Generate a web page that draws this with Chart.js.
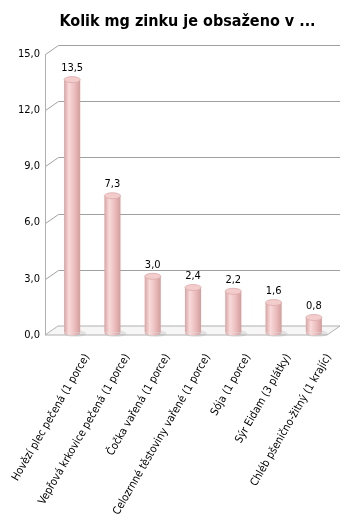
<!DOCTYPE html>
<html>
<head>
<meta charset="utf-8">
<script src="https://cdn.jsdelivr.net/npm/chart.js@4.4.1/dist/chart.umd.min.js"></script>
<style>
  html, body { margin: 0; padding: 0; background: #fff; }
  #wrap { width: 363px; height: 524px; }
</style>
</head>
<body>
<div id="wrap"><canvas id="zinc"></canvas></div>
<script>
// data
const foods = [
    'Hovězí plec pečená (1 porce)',
    'Vepřová krkovice pečená (1 porce)',
    'Čočka vařená (1 porce)',
    'Celozrnné těstoviny vařené (1 porce)',
    'Sója (1 porce)',
    'Sýr Eidam (3 plátky)',
    'Chléb pšenično-žitný (1 krajíc)'
];
const zincMg = [13.5, 7.3, 3.0, 2.4, 2.2, 1.6, 0.8];
const yMin = 0;
const yMax = 15;
const yStep = 3;

const FONT = '"DejaVu Sans Condensed", "DejaVu Sans", sans-serif';
const DEPTH_X = 13, DEPTH_Y = 9;   // 3D wall offset
const BAR_DX = 7, BAR_DY = -2.5;   // bars sit a bit inside the box

const fmt = v => v.toFixed(1).replace('.', ',');

function cylinderGradient(ctx, cx, w) {
    const g = ctx.createLinearGradient(cx - w / 2, 0, cx + w / 2, 0);
    g.addColorStop(0, '#d9a2a2');
    g.addColorStop(0.3, '#f8dada');
    g.addColorStop(0.65, '#ecbdbd');
    g.addColorStop(1, '#d39c9c');
    return g;
}

function barWidth(chart) {
    const a = chart.chartArea;
    return (a.right - a.left) / foods.length * 0.4;
}

// walls, floor, cylinder caps and labels
const cylinderPlugin = {
    id: 'cylinder',
    beforeDatasetsDraw(chart) {
        const ctx = chart.ctx;
        const a = chart.chartArea;
        const y = chart.scales.y;
        ctx.save();
        // floor
        ctx.beginPath();
        ctx.moveTo(a.left, a.bottom);
        ctx.lineTo(a.right, a.bottom);
        ctx.lineTo(a.right + DEPTH_X, a.bottom - DEPTH_Y);
        ctx.lineTo(a.left + DEPTH_X, a.bottom - DEPTH_Y);
        ctx.closePath();
        ctx.fillStyle = '#f6f6f6';
        ctx.fill();
        ctx.strokeStyle = '#b0b0b0';
        ctx.lineWidth = 1;
        ctx.stroke();
        // gridlines on the back wall
        ctx.strokeStyle = '#a0a0a0';
        for (let v = yMin + yStep; v <= yMax; v += yStep) {
            const py = Math.round(y.getPixelForValue(v)) + 0.5;
            ctx.beginPath();
            ctx.moveTo(a.left + 0.5, py);
            ctx.lineTo(a.left + DEPTH_X + 0.5, py - DEPTH_Y);
            ctx.lineTo(a.right + DEPTH_X, py - DEPTH_Y);
            ctx.stroke();
        }
        // left wall edge
        ctx.strokeStyle = '#b0b0b0';
        ctx.beginPath();
        ctx.moveTo(a.left + 0.5, Math.round(y.getPixelForValue(yMax)));
        ctx.lineTo(a.left + 0.5, a.bottom);
        ctx.stroke();
        ctx.restore();

        ctx.save();
        ctx.translate(BAR_DX, BAR_DY);
        // soft shadows on the floor
        const meta = chart.getDatasetMeta(0);
        const w = barWidth(chart);
        meta.data.forEach(el => {
            ctx.beginPath();
            ctx.ellipse(el.x + 3, el.base + 1, w / 2 + 3, 3.5, 0, 0, Math.PI * 2);
            ctx.fillStyle = 'rgba(140,140,140,0.18)';
            ctx.fill();
        });
    },
    afterDatasetsDraw(chart) {
        const ctx = chart.ctx;
        const meta = chart.getDatasetMeta(0);
        const w = barWidth(chart);
        meta.data.forEach((el, i) => {
            const g = cylinderGradient(ctx, el.x, w);
            // rounded bottom
            ctx.beginPath();
            ctx.ellipse(el.x, el.base, w / 2, 3, 0, 0, Math.PI);
            ctx.fillStyle = g;
            ctx.fill();
            // top cap
            ctx.beginPath();
            ctx.ellipse(el.x, el.y, w / 2, 3, 0, 0, Math.PI * 2);
            ctx.fillStyle = '#f3cccc';
            ctx.fill();
            ctx.strokeStyle = '#ddaaaa';
            ctx.lineWidth = 0.8;
            ctx.stroke();
            // value label
            ctx.fillStyle = '#000';
            ctx.font = '11px ' + FONT;
            ctx.textAlign = 'center';
            ctx.textBaseline = 'bottom';
            ctx.fillText(fmt(zincMg[i]), el.x, el.y - 6);
        });
        ctx.restore();
    },
    afterDraw(chart) {
        const ctx = chart.ctx;
        const xs = chart.scales.x;
        const a = chart.chartArea;
        ctx.save();
        ctx.fillStyle = '#000';
        ctx.font = '11px ' + FONT;
        ctx.textAlign = 'right';
        ctx.textBaseline = 'middle';
        foods.forEach((label, i) => {
            ctx.save();
            ctx.translate(xs.getPixelForValue(i) + 22, a.bottom + 20);
            ctx.rotate(-Math.PI / 3);
            ctx.fillText(label, 0, 0);
            ctx.restore();
        });
        ctx.restore();
    }
};

new Chart(document.getElementById('zinc'), {
    type: 'bar',
    data: {
        labels: foods,
        datasets: [{
            data: zincMg,
            backgroundColor(c) {
                const chart = c.chart;
                if (!chart.chartArea || !chart.scales.x) return '#e6b0b0';
                const cx = chart.scales.x.getPixelForValue(c.dataIndex);
                return cylinderGradient(chart.ctx, cx, barWidth(chart));
            },
            borderWidth: 0,
            barPercentage: 0.4,
            categoryPercentage: 1
        }]
    },
    options: {
        responsive: true,
        maintainAspectRatio: false,
        animation: false,
        events: [],
        layout: {
            padding: { left: 12, right: 0, top: 0, bottom: 189 }
        },
        plugins: {
            legend: { display: false },
            tooltip: { enabled: false },
            title: {
                display: true,
                text: 'Kolik mg zinku je obsaženo v ...',
                color: '#000',
                font: { family: FONT, size: 16, weight: 'bold' },
                padding: { top: 12.4, bottom: 22.4 }
            }
        },
        scales: {
            x: {
                display: false
            },
            y: {
                min: yMin,
                max: yMax,
                ticks: {
                    stepSize: yStep,
                    padding: 5,
                    color: '#000',
                    font: { family: FONT, size: 11 },
                    callback: v => fmt(v)
                },
                grid: { display: false, drawTicks: false },
                border: { display: false },
                afterFit(scale) { scale.width = 33; }
            },
            right: {
                position: 'right',
                display: true,
                ticks: { display: false },
                grid: { display: false, drawTicks: false },
                border: { display: false },
                afterFit(scale) { scale.width = 36; }
            }
        }
    },
    plugins: [cylinderPlugin]
});
</script>
</body>
</html>
